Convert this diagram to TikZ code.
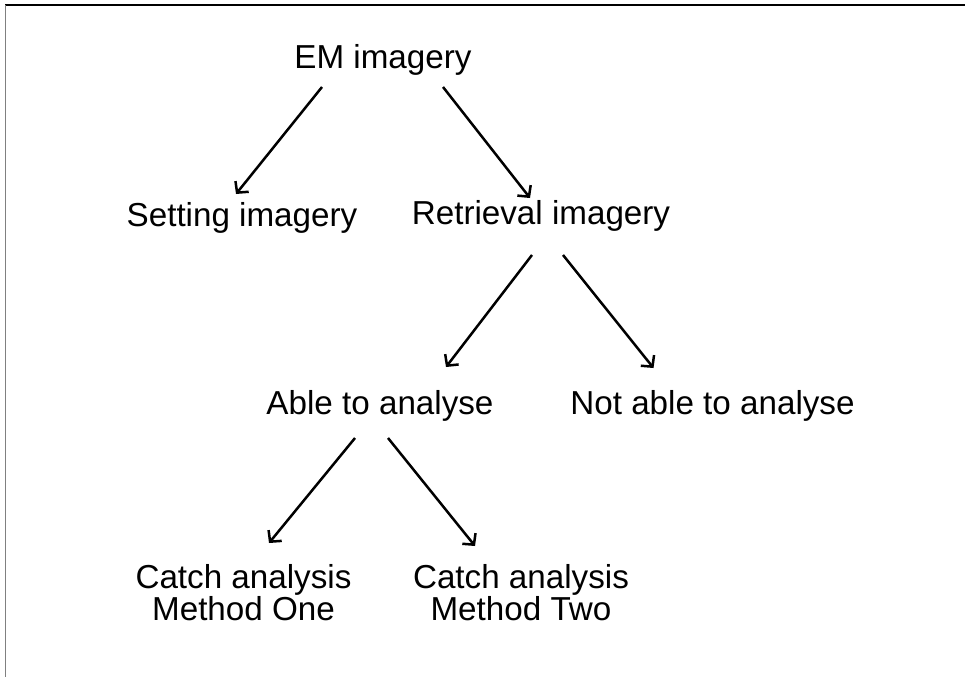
\documentclass[tikz,border=0pt]{standalone}
\usepackage{fontspec}
\setmainfont{Liberation Sans}
\usetikzlibrary{arrows.meta}
\begin{document}
\begin{tikzpicture}[x=1pt,y=-1pt,
  label/.style={anchor=base,inner sep=0pt,align=center,font=\fontsize{33.2}{32}\selectfont},
  arr/.style={line width=2.5pt,-{Straight Barb[length=8pt,width=17pt,line width=2.5pt]}}]
  \useasboundingbox (0,0) rectangle (965,677);
  % frame edges
  \draw[line width=2pt] (5,5) -- (965,5);
  \draw[line width=1pt,gray] (5,5) -- (5,677);

  % labels (two-line labels are anchored on their last line)
  \node[label] (em)   at (383,68)   {EM imagery};
  \node[label] (set)  at (242,226)  {Setting imagery};
  \node[label] (ret)  at (541,224)  {Retrieval imagery};
  \node[label] (able) at (380,414)  {Able to analyse};
  \node[label] (notable) at (712.5,414) {Not able to analyse};
  \node[label] (one)  at (243.5,620) {Catch analysis\\Method One};
  \node[label] (two)  at (521,620)  {Catch analysis\\Method Two};

  % connectors
  \draw[arr] ([shift={(-61,19)}]em.base) -- ([shift={(-6,-32)}]set.base);
  \draw[arr] ([shift={(60,19)}]em.base) -- ([shift={(-11,-26)}]ret.base);
  \draw[arr] ([shift={(-9,31)}]ret.base) -- ([shift={(66,-47)}]able.base);
  \draw[arr] ([shift={(22,31)}]ret.base) -- ([shift={(-59,-46)}]notable.base);
  \draw[arr] ([shift={(-25,24)}]able.base) -- ([shift={(25.5,-77)}]one.base);
  \draw[arr] ([shift={(8,24)}]able.base) -- ([shift={(-46,-74)}]two.base);
\end{tikzpicture}
\end{document}
